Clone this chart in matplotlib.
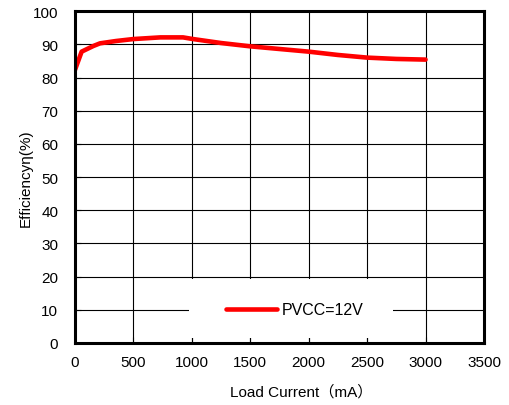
import matplotlib
matplotlib.use("Agg")
import matplotlib.pyplot as plt
from matplotlib.patches import Rectangle

# efficiency curve
load_ma = [0, 57, 157, 214, 350, 500, 730, 925, 1010, 1250, 1500, 1750, 2000, 2250, 2500, 2750, 3000]
eff = [82.3, 87.8, 89.5, 90.3, 91.0, 91.6, 92.1, 92.1, 91.6, 90.4, 89.4, 88.6, 87.8, 86.8, 86.0, 85.6, 85.4]
series_name = "PVCC=12V"
x_ticks = [0, 500, 1000, 1500, 2000, 2500, 3000, 3500]
y_ticks = [0, 10, 20, 30, 40, 50, 60, 70, 80, 90, 100]

plt.rcParams['font.family'] = ['Liberation Sans Narrow', 'Liberation Sans', 'DejaVu Sans']

fig = plt.figure(figsize=(5.10, 4.06), dpi=100)
ax = fig.add_axes([0.147, 0.153, 0.802, 0.817])

ax.plot(load_ma, eff, color='#ff0000', lw=3.3, solid_capstyle='round', label=series_name, zorder=4)

ax.set_xlim(0, 3500)
ax.set_ylim(0, 100)
ax.set_xticks(x_ticks)
ax.set_yticks(y_ticks)
ax.grid(True, color='black', lw=0.8)
ax.tick_params(direction='in', length=4, width=0.8, labelsize=11, colors='black')
ax.tick_params(axis='x', pad=9)
ax.tick_params(axis='y', pad=12)
for s in ax.spines.values():
    s.set_linewidth(2.2)
    s.set_zorder(5)

# white backdrop behind the legend (hides the grid like the original)
ax.add_patch(Rectangle((0.279, 0.016), 0.499, 0.176, transform=ax.transAxes,
                       facecolor='white', edgecolor='none', zorder=3))
leg = ax.legend(loc='center', bbox_to_anchor=(0.537, 0.10), frameon=False,
                fontsize=11.5, handlelength=3.2, handletextpad=0.3)
leg.set_zorder(6)

ax.set_ylabel("Efficiencyη(%)", fontsize=11, family=['Liberation Sans', 'DejaVu Sans'])
ax.yaxis.set_label_coords(-0.103, 0.5)
ax.set_xlabel("Load Current（mA）", fontsize=11,
              family=['Liberation Sans Narrow', 'Liberation Sans', 'Noto Sans CJK SC'])
ax.xaxis.set_label_coords(0.553, -0.123)

fig.savefig('out.png', dpi=100)
